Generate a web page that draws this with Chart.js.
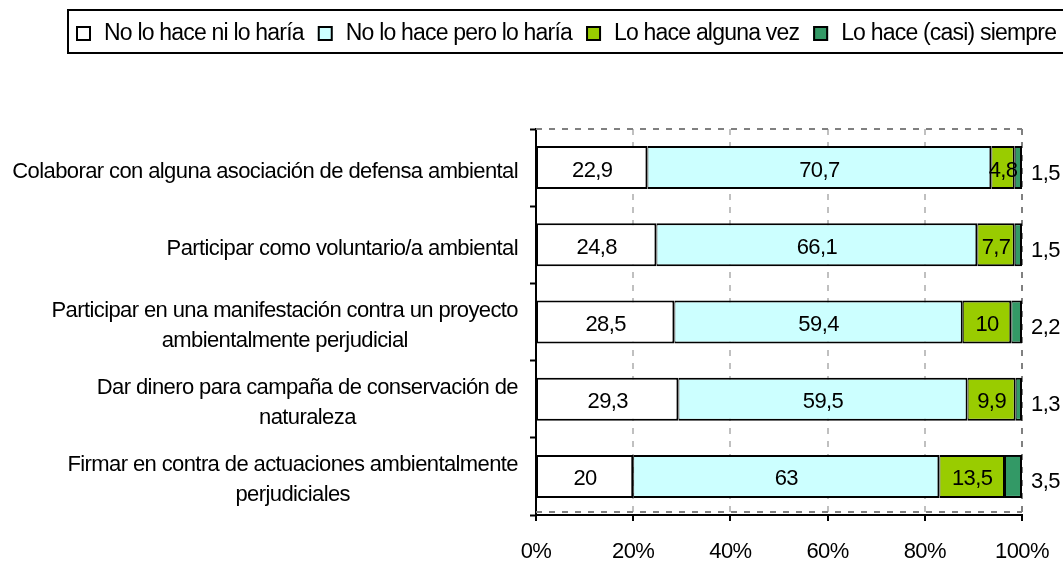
<!DOCTYPE html>
<html>
<head>
<meta charset="utf-8">
<script src="https://cdn.jsdelivr.net/npm/chart.js@4.4.0/dist/chart.umd.min.js"></script>
<style>
  html, body { margin: 0; padding: 0; background: #fff; }
</style>
</head>
<body>
<canvas id="chart" width="1063" height="563"></canvas>
<script>
// rows, top to bottom
const categories = [
  ["Colaborar con alguna asociación de defensa ambiental"],
  ["Participar como voluntario/a ambiental"],
  ["Participar en una manifestación contra un proyecto", "ambientalmente perjudicial"],
  ["Dar dinero para campaña de conservación de", "naturaleza"],
  ["Firmar en contra de actuaciones ambientalmente", "perjudiciales"]
];
const seriesNames = ["No lo hace ni lo haría", "No lo hace pero lo haría", "Lo hace alguna vez", "Lo hace (casi) siempre"];
const noLoHaria = [22.9, 24.8, 28.5, 29.3, 20];
const noPeroHaria = [70.7, 66.1, 59.4, 59.5, 63];
const algunaVez = [4.8, 7.7, 10, 9.9, 13.5];
const casiSiempre = [1.5, 1.5, 2.2, 1.3, 3.5];
const xTicks = [0, 20, 40, 60, 80, 100];

const seriesValues = [noLoHaria, noPeroHaria, algunaVez, casiSiempre];
const colors = ["#ffffff", "#ccffff", "#99cc00", "#339966"];
const FONT_FAMILY = '"Liberation Sans", Arial, sans-serif';
const FONT_SIZE = 22;
const FONT = FONT_SIZE + "px " + FONT_FAMILY;
const LEGEND_FONT = "23px " + FONT_FAMILY;
const SPACING = "-0.6px";

// 100% stacked: each row is scaled to its own total
const totals = categories.map((c, i) => seriesValues.reduce((s, arr) => s + arr[i], 0));
const share = arr => arr.map((v, i) => v / totals[i] * 100);
const fmt = v => String(v).replace(".", ",");

const decor = {
  id: "decor",
  beforeDraw(chart) {
    chart.ctx.letterSpacing = SPACING;
  },
  beforeDatasetsDraw(chart) {
    const { ctx, chartArea: a } = chart;
    ctx.save();
    ctx.strokeStyle = "#808080";
    ctx.lineWidth = 2;
    ctx.setLineDash([6, 7]);
    ctx.beginPath();
    ctx.moveTo(a.left, a.top);
    ctx.lineTo(a.right, a.top);
    ctx.moveTo(a.left, a.bottom - 3);
    ctx.lineTo(a.right, a.bottom - 3);
    ctx.stroke();
    ctx.restore();
  },
  afterDatasetsDraw(chart) {
    const { ctx, chartArea: a } = chart;
    ctx.save();
    ctx.font = FONT;
    ctx.fillStyle = "#000";
    ctx.textBaseline = "middle";
    chart.data.datasets.forEach((ds, di) => {
      const meta = chart.getDatasetMeta(di);
      meta.data.forEach((bar, i) => {
        const txt = fmt(seriesValues[di][i]);
        if (di === seriesValues.length - 1) {
          ctx.textAlign = "left";
          ctx.fillText(txt, a.right + 9, bar.y + 6);
        } else {
          ctx.textAlign = "center";
          ctx.fillText(txt, (bar.x + bar.base) / 2, bar.y + 3);
        }
      });
    });
    ctx.restore();
  },
  afterDraw(chart) {
    const { ctx } = chart;
    const yScale = chart.scales.y;
    ctx.save();
    ctx.font = FONT;
    ctx.fillStyle = "#000";
    ctx.textBaseline = "middle";
    ctx.textAlign = "center";
    // category labels: block right-aligned, lines centred inside it
    const right = 518, lh = 30;
    categories.forEach((lines, i) => {
      const w = Math.max(...lines.map(l => ctx.measureText(l).width));
      const cx = right - w / 2;
      const cy = yScale.getPixelForValue(i) + 4;
      lines.forEach((l, k) => {
        ctx.fillText(l, cx, cy + (k - (lines.length - 1) / 2) * lh);
      });
    });
    // legend in a framed box
    ctx.font = LEGEND_FONT;
    ctx.letterSpacing = "-0.8px";
    ctx.lineWidth = 2;
    ctx.strokeStyle = "#000";
    ctx.strokeRect(68, 10, 1063 - 68 + 10, 43);
    ctx.textAlign = "left";
    let x = 76;
    chart.data.datasets.forEach(ds => {
      ctx.fillStyle = ds.backgroundColor;
      ctx.fillRect(x, 26, 15, 15);
      ctx.strokeRect(x + 1, 27, 13, 13);
      ctx.fillStyle = "#000";
      ctx.fillText(ds.label, x + 28, 34);
      x += 28 + ctx.measureText(ds.label).width + 14;
    });
    ctx.restore();
  }
};

new Chart(document.getElementById("chart"), {
  type: "bar",
  data: {
    labels: categories,
    datasets: seriesValues.map((arr, i) => ({
      label: seriesNames[i],
      data: share(arr),
      backgroundColor: colors[i],
      borderColor: "#000",
      borderWidth: { top: 2, bottom: 2, left: 1, right: 2 },
      borderSkipped: false,
      barPercentage: 0.557,
      categoryPercentage: 1
    }))
  },
  options: {
    responsive: false,
    animation: false,
    devicePixelRatio: 1,
    indexAxis: "y",
    layout: { padding: { top: 129, right: 41, left: 0, bottom: 0 } },
    plugins: {
      legend: { display: false },
      tooltip: { enabled: false }
    },
    scales: {
      x: {
        stacked: true,
        min: 0,
        max: 100,
        afterFit: s => {
          s.height = 48;
          s.paddingLeft = 0;
          s.paddingRight = 0;
        },
        afterBuildTicks: s => { s.ticks = xTicks.map(v => ({ value: v })); },
        ticks: {
          callback: v => v + "%",
          color: "#000",
          font: { family: FONT_FAMILY, size: FONT_SIZE },
          padding: 18,
          maxRotation: 0
        },
        grid: {
          color: c => (c.tick && c.tick.value === 100 ? "#808080" : "#c0c0c0"),
          lineWidth: 2,
          drawTicks: true,
          tickLength: 6,
          tickColor: "#000",
          tickWidth: 2
        },
        border: { color: "#000", width: 2, dash: [6, 7] }
      },
      y: {
        stacked: true,
        afterFit: s => { s.width = 536; },
        ticks: { display: false },
        grid: {
          drawOnChartArea: false,
          drawTicks: true,
          tickLength: 6,
          tickColor: "#000",
          tickWidth: 2,
          offset: true
        },
        border: { color: "#000", width: 2 }
      }
    }
  },
  plugins: [decor]
});
</script>
</body>
</html>
